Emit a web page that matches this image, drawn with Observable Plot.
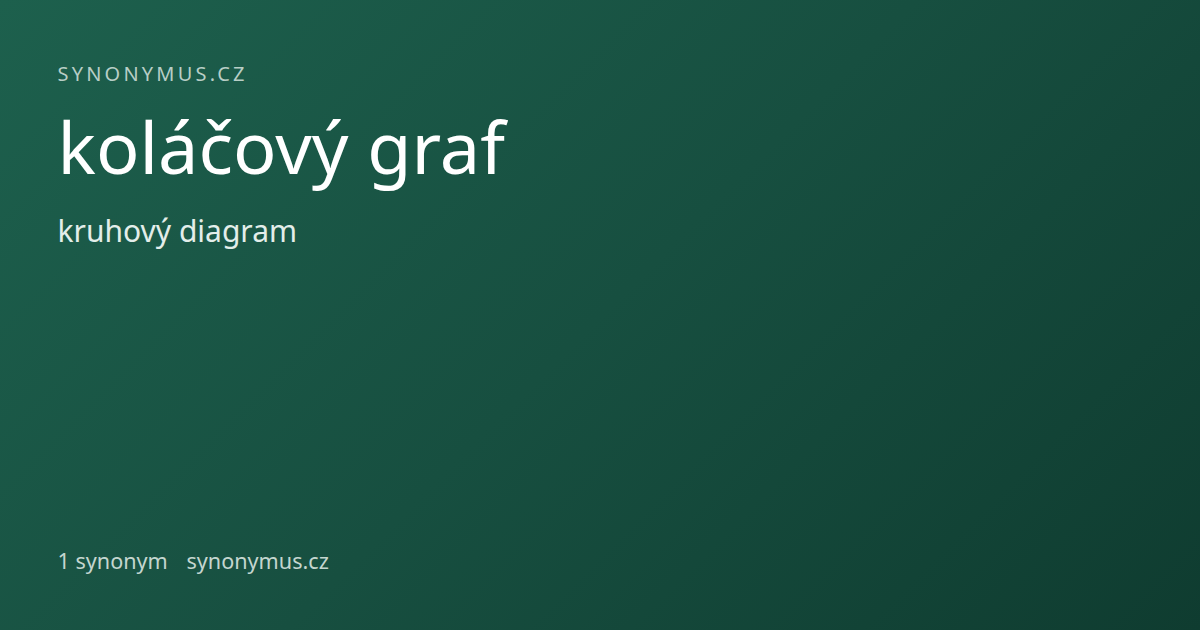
<!DOCTYPE html>
<html>
<head>
<meta charset="utf-8">
<script src="https://cdn.jsdelivr.net/npm/d3@7"></script>
<script src="https://cdn.jsdelivr.net/npm/@observablehq/plot@0.6"></script>
<style>
  html, body { margin: 0; padding: 0; width: 1200px; height: 630px; overflow: hidden; }
  #chart { width: 1200px; height: 630px; background: linear-gradient(135deg, #1d604d 0%, #174f40 50%, #0f3c30 100%); }
  #chart svg { display: block; }
  .site text { letter-spacing: 3.2px; }
</style>
</head>
<body>
<div id="chart"></div>
<script>
const siteLabel = ["SYNONYMUS.CZ"];
const titleWord = ["koláčový graf"];
const synonymsList = ["kruhový diagram"];
const footerCount = ["1 synonym"];
const footerSite = ["synonymus.cz"];

const font = "'Noto Sans', 'Open Sans', sans-serif";
const common = {frameAnchor: "top-left", textAnchor: "start", lineAnchor: "bottom", fontFamily: font, fontWeight: 400, dx: 57};

const chart = Plot.plot({
  width: 1200,
  height: 630,
  margin: 0,
  style: {background: "none", fontFamily: font, overflow: "visible"},
  marks: [
    Plot.text(siteLabel, {...common, text: d => d, dy: 80, fontSize: 20, fill: "#b8cec6", className: "site"}),
    Plot.text(titleWord, {...common, text: d => d, dy: 173, fontSize: 72, fill: "#ffffff"}),
    Plot.text(synonymsList, {...common, text: d => d, dy: 241, fontSize: 30, fill: "#e3eeea"}),
    Plot.text(footerCount, {...common, text: d => d, dy: 568, fontSize: 21.6, fill: "#c4d6cf"}),
    Plot.text(footerSite, {...common, text: d => d, dx: 186, dy: 568, fontSize: 21.6, fill: "#c4d6cf"})
  ]
});
document.getElementById("chart").append(chart);
</script>
</body>
</html>
